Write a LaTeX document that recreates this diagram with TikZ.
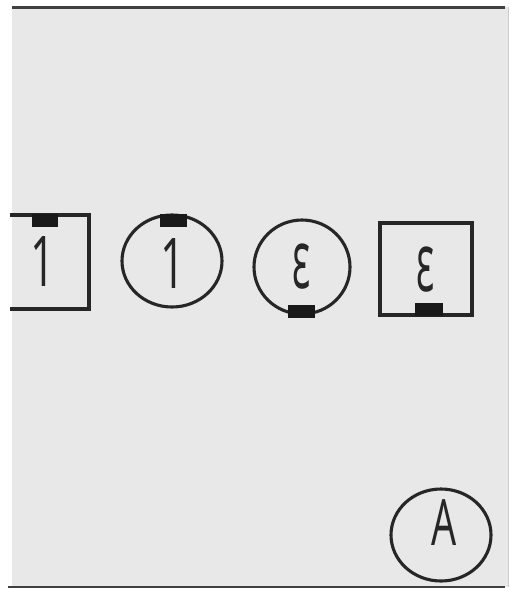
\documentclass[tikz,border=0pt]{standalone}
\usepackage{fontspec}
\setmainfont{Open Sans}
\newfontfamily\glyphfont{Open Sans}
\begin{document}
\begin{tikzpicture}[x=1pt,y=-1pt,
  outl/.style={draw=black!85,line width=3.1pt},
  tab/.style={fill=black!90},
  glyph/.style={inner sep=0pt,font=\glyphfont\fontsize{70}{70}\selectfont,transform shape,xscale=0.62,text=black!85},
  epsglyph/.style={glyph,font=\glyphfont\fontsize{82}{82}\selectfont,xscale=0.75}]
\useasboundingbox (0,0) rectangle (511,592);
\fill[white] (0,0) rectangle (511,592);
\fill[black!9] (12,7) rectangle (508,587);
\draw[black!75,line width=3pt] (12,7) -- (505,7);
\draw[black!75,line width=2.5pt] (8,587) -- (505,587);
\draw[black!20,line width=1pt] (508,7) -- (508,587);
% left square (open at left)
\draw[outl] (10,215) -- (89,215) -- (89,309) -- (10,309);
\fill[tab] (32,214) rectangle (58,227);
\node[glyph] (n1) at (43,262) {1};
% circle 1
\draw[outl] (172,261) ellipse [x radius=50,y radius=46];
\fill[tab] (160,214) rectangle (187,227);
\node[glyph] (n2) at (173,264) {1};
% circle epsilon
\draw[outl] (302,267) ellipse [x radius=48,y radius=47];
\fill[tab] (288,305) rectangle (315,318);
\node[epsglyph] (n3) at (302,267) {ε};
% square epsilon
\draw[outl] (380,223) rectangle (472,315);
\fill[tab] (415,303) rectangle (443,316);
\node[epsglyph] (n4) at (426,270) {ε};
% circle A
\draw[outl] (441,535) ellipse [x radius=50,y radius=46];
\node[glyph,font=\glyphfont\fontsize{64}{64}\selectfont] (n5) at (444,523) {A};
\end{tikzpicture}
\end{document}
